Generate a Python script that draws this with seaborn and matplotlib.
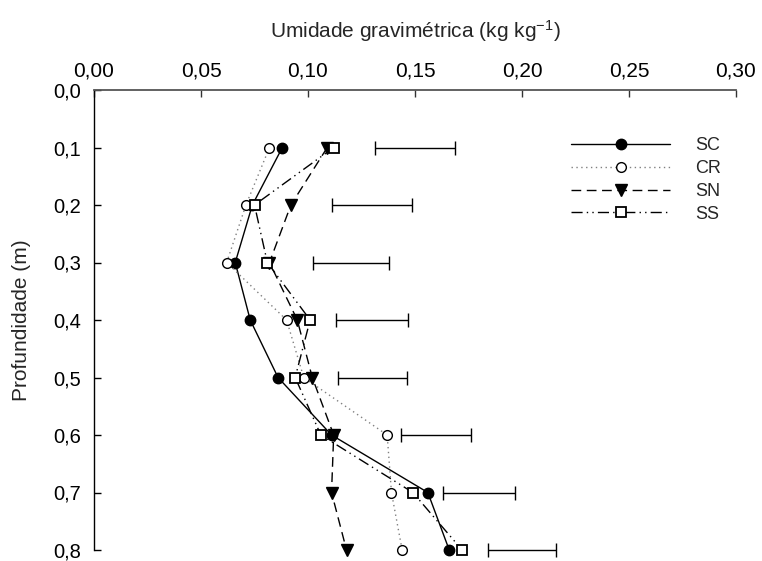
import matplotlib
matplotlib.use("Agg")
import matplotlib.pyplot as plt
import seaborn as sns
import pandas as pd

depth = [0.1, 0.2, 0.3, 0.4, 0.5, 0.6, 0.7, 0.8]
sc = [0.088, 0.074, 0.066, 0.073, 0.086, 0.111, 0.156, 0.166]
cr = [0.082, 0.071, 0.062, 0.090, 0.098, 0.137, 0.139, 0.144]
sn = [0.109, 0.092, 0.082, 0.095, 0.102, 0.112, 0.111, 0.118]
ss = [0.112, 0.075, 0.081, 0.101, 0.094, 0.106, 0.149, 0.172]
err_center = [0.150, 0.130, 0.120, 0.130, 0.130, 0.160, 0.180, 0.200]
err_half = [0.0187, 0.0187, 0.0178, 0.0169, 0.0161, 0.0164, 0.0169, 0.0161]
series_names = ["SC", "CR", "SN", "SS"]
x_ticks = [0.00, 0.05, 0.10, 0.15, 0.20, 0.25, 0.30]
y_ticks = [0.0, 0.1, 0.2, 0.3, 0.4, 0.5, 0.6, 0.7, 0.8]

sns.set_theme(style="white")
plt.rcParams["font.family"] = ["Liberation Sans", "DejaVu Sans"]
plt.rcParams["mathtext.default"] = "regular"

fig = plt.figure(figsize=(7.62, 5.61), dpi=100)
# axes: left spine x=94, right x=736, top y=90, bottom (0.8) y=550
ax = fig.add_axes([94 / 762, 1 - 550 / 561, 642 / 762, 460 / 561])

styles = {
    "SC": dict(marker="o", mfc="black", mec="black", ls="-", color="black", ms=7.5, lw=1.0),
    "CR": dict(marker="o", mfc="white", mec="black", ls=(0, (1, 2.5)), color="#808080", ms=7, lw=1.0),
    "SN": dict(marker="v", mfc="black", mec="black", ls=(0, (7, 4)), color="black", ms=8.5, lw=1.0),
    "SS": dict(marker="s", mfc="white", mec="black", ls=(0, (8, 3, 1, 3, 1, 3)), color="black", ms=7.5, lw=1.0, mew=1.3),
}
values = {"SC": sc, "CR": cr, "SN": sn, "SS": ss}

for name in series_names:
    df = pd.DataFrame({"x": values[name], "y": depth})
    st = styles[name]
    sns.lineplot(data=df, x="x", y="y", orient="y", sort=False, estimator=None,
                 ax=ax, label=name, color=st["color"], linestyle=st["ls"], lw=st["lw"],
                 marker=st["marker"], markerfacecolor=st["mfc"], markeredgecolor=st["mec"],
                 markersize=st["ms"], markeredgewidth=st.get("mew", 1.0), clip_on=False, zorder=3)

ax.errorbar(err_center, depth, xerr=err_half, fmt="none", ecolor="black",
            elinewidth=1.0, capsize=4.8, capthick=1.0, clip_on=False)

ax.set_xlim(0, 0.30)
ax.set_ylim(0.8, 0.0)
ax.xaxis.tick_top()
ax.set_xticks(x_ticks)
ax.set_xticklabels([f"{v:.2f}".replace(".", ",") for v in x_ticks])
ax.set_yticks(y_ticks)
ax.set_yticklabels([f"{v:.1f}".replace(".", ",") for v in y_ticks])
ax.tick_params(axis="x", direction="in", length=5, width=1, pad=7, labelsize=15,
               top=True, bottom=False, colors="#333333", labelcolor="black")
ax.tick_params(axis="y", direction="in", length=5, width=1, pad=9, labelsize=14.5,
               left=True, colors="black")
for s in ["right", "bottom"]:
    ax.spines[s].set_visible(False)
ax.spines["top"].set_color("#555555")
ax.spines["top"].set_linewidth(1.3)
ax.spines["left"].set_color("black")
ax.spines["left"].set_linewidth(1.0)
ax.set_xlabel("")
ax.set_ylabel("")

fig.text((94 + 321) / 762, 1 - 31 / 561, "Umidade gravimétrica (kg kg$^{-1}$)",
         fontsize=15, ha="center", va="center")
fig.text(22 / 762, 1 - 320 / 561, "Profundidade (m)", fontsize=15,
         rotation=90, ha="center", va="center")

leg = ax.legend(loc="upper left", bbox_to_anchor=(0.743, 0.897), frameon=False,
                fontsize=13, handlelength=5.5, handletextpad=1.4, labelspacing=0.32,
                borderaxespad=0, borderpad=0)

fig.savefig("out.png", dpi=100)
